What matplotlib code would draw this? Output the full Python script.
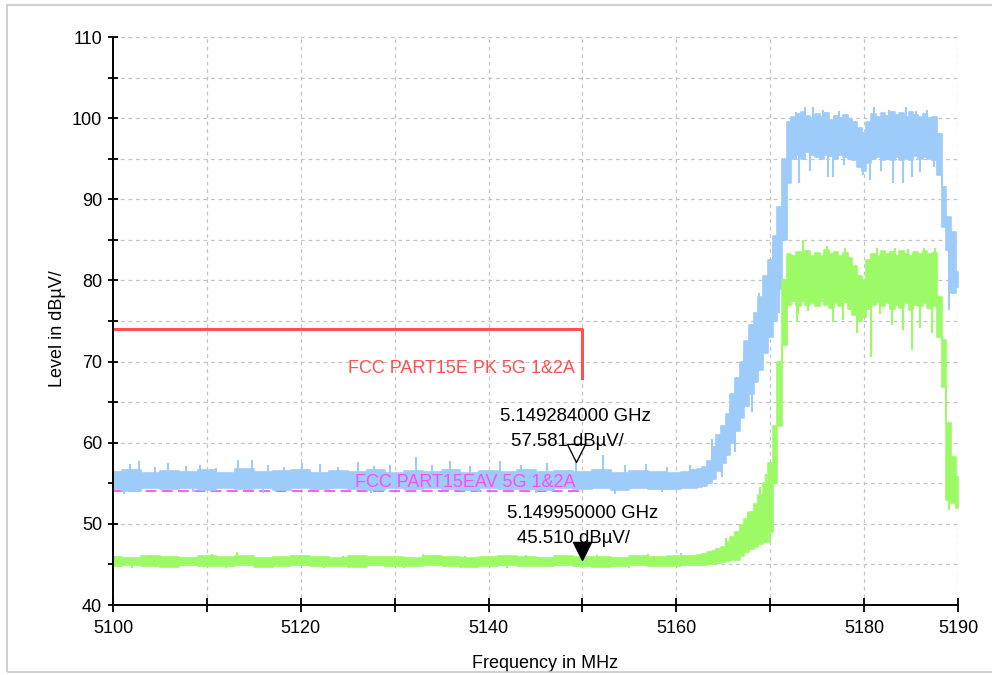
import numpy as np
import matplotlib
matplotlib.use("Agg")
import matplotlib.pyplot as plt
from matplotlib.patches import Rectangle
from matplotlib.path import Path

plt.rcParams["font.family"] = ["Liberation Sans", "DejaVu Sans"]

# ---- data ----
# sweep frequency grid (MHz): coarse on the flat noise floor, finer over the signal
freq = np.concatenate([np.arange(5100, 5161, 2), [5161, 5162],
                       np.arange(5162.5, 5190.1, 0.5)])

# peak trace (blue): lower / upper edge of the noise band, dBuV
pk_lo = [54.3, 54.1, 54.4, 54.3, 54.4, 54.2, 54.4, 54.3, 54.4, 54.2, 54.4,
         54.3, 54.4, 54.3, 54.2, 54.4, 54.3, 54.4, 54.3, 54.2, 54.4, 54.3,
         54.3, 54.2, 54.4, 54.3, 54.4, 54.2, 54.4, 54.3, 54.3, 54.4, 54.4,
         54.5, 54.7, 55.0, 55.5, 56.5, 57.5, 58.5, 60.0, 61.5, 63.0,
         64.5, 66.0, 67.5, 69.0, 71.0, 73.0, 75.0, 79.0, 85.0, 92.0,
         95.0, 95.5, 95.0, 95.8, 95.5, 95.2, 95.0, 95.5, 95.3, 95.0,
         95.5, 95.2, 95.0, 94.8, 94.0, 93.5, 94.5, 95.0, 95.2, 94.8,
         95.0, 94.8, 95.2, 94.8, 95.0, 94.9, 95.3, 95.0, 95.2, 95.0,
         94.8, 93.0, 86.6, 83.7, 78.5, 79.2]
pk_hi = [56.4, 56.6, 56.3, 56.5, 56.4, 56.6, 56.3, 56.7, 56.4, 56.5, 56.6,
         56.3, 56.5, 56.4, 56.6, 56.3, 56.5, 56.4, 56.6, 56.3, 56.5, 56.4,
         56.6, 56.4, 56.5, 56.4, 56.6, 56.3, 56.5, 56.4, 56.3, 56.4, 56.6,
         56.8, 57.0, 57.8, 59.5, 61.0, 62.0, 63.5, 66.0, 68.0, 70.0,
         72.5, 74.5, 76.0, 78.0, 80.5, 82.5, 85.5, 89.0, 95.0, 99.5,
         100.2, 100.5, 100.8, 100.3, 100.0, 100.5, 100.2, 100.6, 99.8, 100.3,
         100.0, 100.4, 99.9, 99.5, 98.8, 98.2, 99.5, 100.5, 100.2, 100.6,
         100.3, 100.8, 100.4, 100.6, 100.2, 100.7, 100.4, 100.2, 100.5, 100.0,
         100.1, 98.0, 91.5, 87.8, 86.0, 81.0]

# average trace (green)
av_lo = [44.8, 44.9, 44.8, 44.7, 44.9, 44.8, 44.8, 44.9, 44.7, 44.8, 44.9,
         44.8, 44.8, 44.7, 44.9, 44.8, 44.8, 44.9, 44.8, 44.7, 44.8, 44.9,
         44.8, 44.8, 44.9, 44.8, 44.7, 44.8, 44.9, 44.8, 44.8, 44.9, 44.9,
         44.9, 44.9, 45.0, 45.1, 45.2, 45.3, 45.4, 45.5, 45.6, 46.0,
         46.5, 46.9, 47.2, 47.5, 47.8, 49.0, 55.0, 62.0, 72.0, 77.0,
         77.5, 76.8, 77.5, 77.0, 77.2, 76.8, 77.5, 77.0, 76.6, 77.2,
         76.8, 77.4, 76.5, 75.8, 75.0, 75.5, 76.5, 77.0, 77.3, 76.8,
         77.2, 76.5, 77.0, 76.6, 77.2, 76.4, 77.0, 76.8, 77.2, 76.6,
         76.8, 73.0, 66.9, 53.0, 52.6, 52.0]
av_hi = [45.9, 45.8, 46.0, 45.9, 45.8, 46.0, 45.9, 46.0, 45.8, 45.9, 46.0,
         45.9, 45.8, 46.0, 45.9, 45.9, 45.8, 46.0, 45.9, 45.8, 45.9, 46.0,
         45.9, 45.8, 46.0, 45.9, 45.9, 45.8, 46.0, 45.9, 46.0, 46.0, 46.1,
         46.2, 46.3, 46.5, 46.7, 46.9, 47.2, 47.8, 48.4, 49.0, 49.8,
         50.6, 51.5, 52.5, 53.5, 55.0, 57.5, 62.0, 70.0, 80.0, 83.2,
         83.0, 83.5, 83.2, 83.6, 83.0, 83.4, 83.0, 83.7, 83.2, 83.5,
         83.0, 83.4, 82.8, 81.8, 80.5, 80.0, 82.5, 83.3, 83.0, 83.6,
         83.2, 83.5, 83.0, 83.6, 83.3, 83.0, 83.5, 83.2, 83.6, 83.3,
         83.4, 78.0, 72.6, 62.4, 58.2, 55.8]

# single spikes / dips sticking out of the noise band
pk_spike_f = [5101.2, 5101.8, 5102.8, 5104.5, 5105.9, 5107.8, 5108.5, 5109.3,
              5111.0, 5113.3, 5114.8, 5116.0, 5116.5, 5118.2, 5120.1, 5122.0,
              5124.0, 5126.1, 5127.5, 5127.8, 5129.5, 5132.3, 5134.0, 5135.9,
              5138.0, 5139.0, 5141.2, 5143.5, 5145.0, 5146.2, 5149.284,
              5152.2, 5153.5, 5154.5, 5156.8, 5158.5, 5159.0, 5161.5,
              5163.8, 5164.9, 5165.7, 5166.3, 5167.2, 5168.1, 5168.8,
              5169.6, 5170.3, 5170.9,
              5172.7, 5173.1, 5173.7, 5174.2, 5174.6, 5175.6, 5176.2,
              5176.7, 5177.3, 5177.9, 5179.85, 5180.6, 5181.0, 5181.8, 5182.6,
              5183.1, 5184.1, 5184.5, 5185.1, 5185.5, 5185.9, 5186.7, 5187.4,
              5189.0, 5189.3]
pk_spike_v = [53.7, 57.4, 57.8, 57.0, 57.5, 57.1, 53.9, 57.2,
              56.9, 57.9, 57.9, 53.8, 57.2, 57.0, 57.5, 57.4,
              57.0, 57.6, 53.8, 57.1, 57.3, 58.3, 57.2, 57.8,
              57.1, 53.9, 57.7, 57.2, 53.8, 57.5, 57.581,
              58.5, 53.7, 57.2, 57.4, 53.9, 57.0, 57.3,
              60.5, 55.8, 64.5, 58.8, 71.0, 63.8, 78.5,
              71.8, 84.5, 76.0,
              100.8, 92.0, 101.4, 93.5, 101.4, 101.0, 92.8,
              92.8, 100.9, 94.2, 93.0, 92.4, 101.4, 93.5, 101.0,
              92.0, 92.0, 101.4, 92.8, 100.9, 93.4, 101.0, 94.0,
              76.4, 78.5]

av_spike_f = [5102.0, 5104.0, 5110.5, 5112.0, 5113.2, 5119.0, 5122.5, 5124.5,
              5131.0, 5133.0, 5137.5, 5142.0, 5144.0, 5151.5, 5155.0, 5157.0,
              5160.5, 5165.3, 5167.6, 5168.9, 5169.5, 5170.0,
              5172.9, 5173.0, 5173.5, 5174.0, 5176.0, 5176.7,
              5177.8, 5178.0, 5179.2, 5180.7, 5181.4, 5181.7, 5183.0, 5183.3,
              5184.1, 5184.7, 5185.1, 5185.9, 5186.4, 5187.2, 5187.6, 5189.0]
av_spike_v = [44.5, 46.2, 46.3, 44.5, 46.5, 46.2, 44.6, 46.1,
              44.5, 46.3, 46.1, 44.6, 46.2, 46.2, 44.5, 46.3,
              46.4, 48.3, 51.5, 54.6, 56.2, 47.6,
              74.9, 75.9, 85.0, 76.2, 84.3, 74.9,
              75.1, 84.0, 73.5, 70.6, 84.0, 75.9, 74.5, 84.0,
              73.9, 83.9, 71.4, 74.1, 84.0, 73.5, 84.0, 51.7]

# limit lines
pk_limit_f = [5100, 5150, 5150]
pk_limit_v = [74, 74, 68]
av_limit_f = [5100, 5150]
av_limit_v = [54, 54]

# markers
mk_f = [5149.284, 5149.950]
mk_v = [57.581, 45.510]
mk_text = [("5.149284000 GHz", "57.581 dBµV/"),
           ("5.149950000 GHz", "45.510 dBµV/")]

x_major = [5100, 5120, 5140, 5160, 5180, 5190]
x_minor = [5110, 5130, 5150, 5170]

BLUE = "#9dcbfa"
GREEN = "#9cfa66"
RED = "#ff5050"
MAGENTA = "#ff4cff"


def draw_trace(ax, lo, hi, spike_f, spike_v, color, z):
    lo = np.asarray(lo)
    hi = np.asarray(hi)
    ax.fill_between(freq, lo, hi, step="mid", color=color, lw=1.2,
                    edgecolor=color, zorder=z)
    mid = np.interp(spike_f, freq, (lo + hi) / 2)
    ax.vlines(spike_f, mid, spike_v, color=color, lw=1.5, zorder=z)


def main():
    fig = plt.figure(figsize=(9.92, 6.75), dpi=100)
    ax = fig.add_axes([113 / 992, 1 - 605 / 675, 845 / 992, 568 / 675])

    # light frame around the whole picture
    fig.patches.append(Rectangle((7 / 992, 3 / 675), 1.0, 667 / 675,
                                 transform=fig.transFigure, fill=False,
                                 edgecolor="#c8c8c8", lw=1.2))

    ax.set_xlim(5100, 5190)
    ax.set_ylim(40, 110)

    # grid
    for f in range(5110, 5191, 10):
        ax.axvline(f, color="#c4c4c4", lw=0.9, ls=(0, (3, 3)), zorder=0)
    for v in range(45, 111, 5):
        ax.axhline(v, color="#c4c4c4", lw=0.9, ls=(0, (3, 3)), zorder=0)

    # limits
    ax.plot(av_limit_f, av_limit_v, color=MAGENTA, lw=1.3,
            ls=(0, (6, 3)), zorder=1)
    ax.plot(pk_limit_f, pk_limit_v, color=RED, lw=2.2, zorder=2)

    # traces
    draw_trace(ax, pk_lo, pk_hi, pk_spike_f, pk_spike_v, BLUE, 3)
    draw_trace(ax, av_lo, av_hi, av_spike_f, av_spike_v, GREEN, 4)

    ax.text(5149.21, 69.2, "FCC PART15E PK 5G 1&2A", color=RED,
            fontsize=13, ha="right", va="center", zorder=6)
    ax.text(5149.3, 55.05, "FCC PART15EAV 5G 1&2A", color=MAGENTA,
            fontsize=13, ha="right", va="center", zorder=6)

    # markers: triangle with its tip on the measured point
    tri = Path([(-1.0, 2.0), (1.0, 2.0), (0.0, 0.0), (-1.0, 2.0)],
               [Path.MOVETO, Path.LINETO, Path.LINETO, Path.CLOSEPOLY])
    ax.plot(mk_f[0], mk_v[0], marker=tri, ms=26, mfc="white", mec="black",
            mew=1.0, ls="none", zorder=7)
    ax.plot(mk_f[1], mk_v[1], marker=tri, ms=26, mfc="black", mec="black",
            mew=1.0, ls="none", zorder=7)

    label_pos = [((5141.2, 63.2), (5142.35, 60.1)),
                 ((5142.0, 51.3), (5143.05, 48.2))]
    for (l1, l2), (p1, p2) in zip(mk_text, label_pos):
        ax.text(p1[0], p1[1], l1, fontsize=13.4, ha="left", va="center",
                zorder=8)
        ax.text(p2[0], p2[1], l2, fontsize=13.4, ha="left", va="center",
                zorder=8)

    # axes styling
    for s in ("top", "right"):
        ax.spines[s].set_visible(False)
    for s in ("left", "bottom"):
        ax.spines[s].set_linewidth(1.4)
        ax.spines[s].set_zorder(9)

    ax.set_xticks(x_major)
    ax.set_xticks(x_minor, minor=True)
    ax.set_yticks(range(40, 111, 10))
    ax.set_yticks(range(45, 111, 10), minor=True)
    ax.tick_params(axis="x", which="both", direction="inout", length=10,
                   width=1.3, labelsize=13, pad=6)
    ax.tick_params(axis="y", which="both", direction="inout", length=7.5,
                   width=1.3, labelsize=13, pad=4)

    ax.text((57 - 113) / 845, (605 - 329) / 568, "Level in dBµV/",
            transform=ax.transAxes, rotation=90, fontsize=13,
            ha="center", va="center")
    ax.text((545 - 113) / 845, (605 - 664) / 568, "Frequency in MHz",
            transform=ax.transAxes, fontsize=13, ha="center", va="center")

    fig.savefig("out.png", dpi=100)
    plt.close(fig)


if __name__ == "__main__":
    main()
